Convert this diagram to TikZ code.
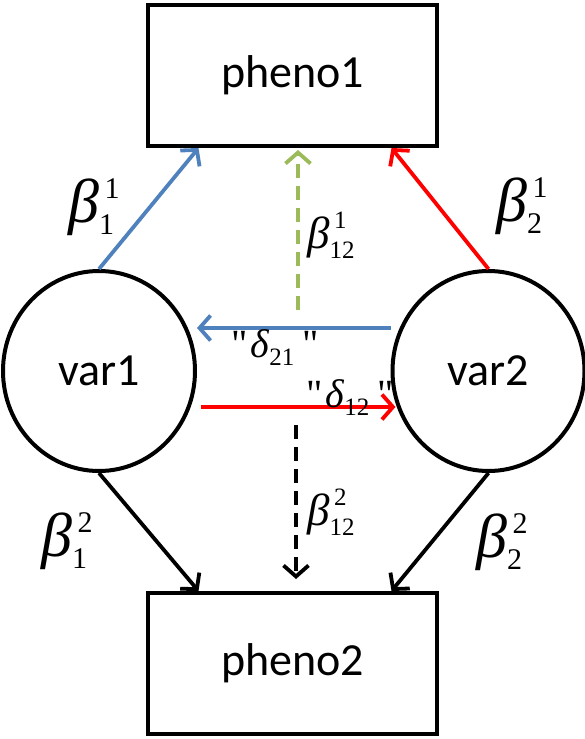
\documentclass[tikz,border=0pt]{standalone}
\usepackage{fontspec}
\setmainfont{Carlito}
\newfontfamily\tfont{Liberation Serif}
\usetikzlibrary{arrows.meta,shapes.geometric}
\definecolor{myblue}{RGB}{79,129,189}
\definecolor{myred}{RGB}{255,0,0}
\definecolor{mygreen}{RGB}{155,187,89}
% #1 main size, #2 script size, #3 symbol, #4 sub, #5 sup
\newcommand\coef[5]{{\tfont\fontsize{#1}{#1}\selectfont\itshape #3}\kern0.01em{\tfont\fontsize{#2}{#2}\selectfont\rlap{\raisebox{0.78em}{\kern0.18em#5}}\raisebox{-0.43em}{#4}}}
\newcommand\qmark{{\tfont\XeTeXglyph\XeTeXcharglyph"22\relax}}
\newcommand\dlt[1]{{\tfont\fontsize{40}{40}\selectfont\qmark\kern0.08em{\itshape δ}{\fontsize{25}{25}\selectfont\raisebox{-0.32em}{#1}}\kern0.2em\qmark}}
\tikzset{
  box/.style={draw, line width=4pt, rectangle, minimum width=289pt, minimum height=141pt, inner sep=0pt, font=\fontsize{46}{50}\selectfont},
  varnode/.style={draw, line width=4pt, ellipse, minimum width=192pt, minimum height=200pt, inner sep=0pt, font=\fontsize{46}{50}\selectfont},
  conn/.style={line width=3.8pt, -{Straight Barb[length=11pt,width=25pt]}},
  dashconn/.style={conn, dash pattern=on 14pt off 8pt},
  lab/.style={inner sep=0pt, anchor=base west},
}
\begin{document}
\begin{tikzpicture}[x=1pt,y=-1pt]
\useasboundingbox (0,0) rectangle (585,739);
\node[box] (p1) at (292.5,75.5) {pheno1};
\node[box] (p2) at (292.5,663.5) {pheno2};
\node[varnode] (v1) at (99,371) {var1};
\node[varnode] (v2) at (488.5,371) {var2};
\coordinate (g0) at (298,310);
\coordinate (g1) at (298,150);
\coordinate (k0) at (296,425);
\coordinate (k1) at (296,579);
% top arrows
\draw[conn, myblue] (v1.north) -- ([xshift=-94pt]p1.south);
\draw[conn, myred] (v2.north) -- ([xshift=99pt]p1.south);
\draw[dashconn, mygreen] (g0) -- (g1);
% middle arrows
\draw[conn, myblue] ([yshift=43pt]v2.west) -- ([yshift=43pt]v1.east);
\draw[conn, myred] ([xshift=4pt,yshift=-36pt]v1.east) -- ([xshift=5pt,yshift=-36pt]v2.west);
% bottom arrows
\draw[conn, black] (v1.south) -- ([xshift=-94pt]p2.north);
\draw[conn, black] (v2.south) -- ([xshift=99pt]p2.north);
\draw[dashconn, black] (k0) -- (k1);
% labels
\node[lab] (b11) at (68,222) {\coef{62}{30}{β}{1}{1}};
\node[lab] (b121) at (307,248) {\coef{45}{25}{β}{12}{1}};
\node[lab] (b21) at (496,221) {\coef{62}{30}{β}{2}{1}};
\node[lab] (d21) at (231,357) {\dlt{21}};
\node[lab] (d12) at (306,407) {\dlt{12}};
\node[lab] (b122) at (307,525) {\coef{45}{25}{β}{12}{2}};
\node[lab] (b12) at (41,556) {\coef{62}{30}{β}{1}{2}};
\node[lab] (b22) at (476,557) {\coef{62}{30}{β}{2}{2}};
\end{tikzpicture}
\end{document}
